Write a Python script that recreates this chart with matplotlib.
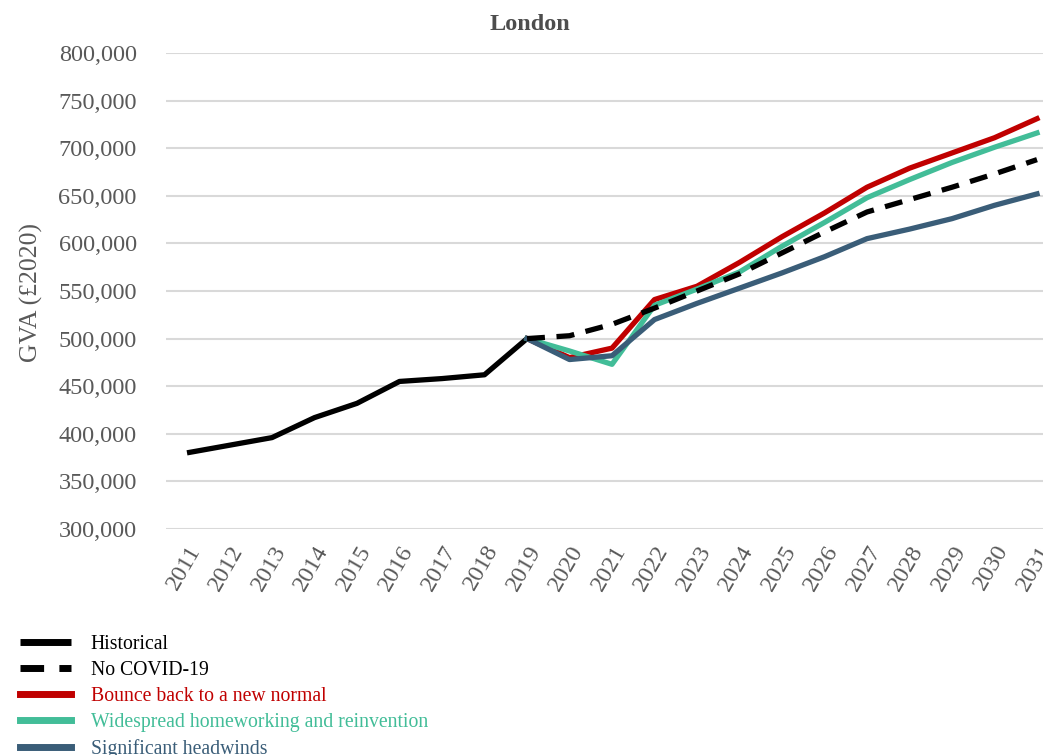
import matplotlib
matplotlib.use("Agg")
import matplotlib.pyplot as plt
from matplotlib.ticker import FuncFormatter

years_hist = [2011, 2012, 2013, 2014, 2015, 2016, 2017, 2018, 2019]
historical = [380000, 388000, 396000, 417000, 432000, 455000, 458000, 462000, 500000]

years_proj = list(range(2019, 2032))
no_covid = [500000, 503000, 515000, 532000, 550000, 568000, 590000, 612000, 633000, 646000, 659000, 673000, 688000]
bounce = [500000, 480000, 490000, 541000, 555000, 580000, 607000, 632000, 659000, 679000, 695000, 711000, 731000]
homework = [500000, 487000, 473000, 535000, 552000, 570000, 597000, 622000, 648000, 667000, 685000, 701000, 716000]
headwinds = [500000, 478000, 482000, 520000, 537000, 553000, 569000, 586000, 605000, 615000, 626000, 640000, 652000]

xticks = list(range(2011, 2032))
yticks = list(range(300000, 800001, 50000))

labels = ["Historical", "No COVID-19", "Bounce back to a new normal",
          "Widespread homeworking and reinvention", "Significant headwinds"]
colors = ["#000000", "#000000", "#C00000", "#42BD98", "#3A5D78"]

plt.rcParams['font.family'] = ['Liberation Serif', 'DejaVu Serif']
grey = "#595959"

fig = plt.figure(figsize=(10.43, 7.55), dpi=100)
ax = fig.add_axes([166/1043, 1-529/755, 1-166/1043, (529-53)/755])

lw = 3.8
ax.plot(years_hist, historical, color=colors[0], lw=lw, label=labels[0], zorder=3, solid_capstyle='butt')
ax.plot(years_proj, no_covid, color=colors[1], lw=lw, ls=(0, (3.4, 2.2)), label=labels[1], zorder=5)
ax.plot(years_proj, bounce, color=colors[2], lw=lw, label=labels[2], zorder=2)
ax.plot(years_proj, homework, color=colors[3], lw=lw, label=labels[3], zorder=3)
ax.plot(years_proj, headwinds, color=colors[4], lw=lw, label=labels[4], zorder=4)

ax.set_xlim(2011 - 21/42.5, 2031 + 6/42.5)
ax.set_ylim(300000, 800000)
ax.set_xticks(xticks)
ax.set_xticklabels([str(y) for y in xticks], rotation=60, ha='right', rotation_mode='anchor')
ax.set_yticks(yticks)
ax.yaxis.set_major_formatter(FuncFormatter(lambda v, p: f"{int(v):,}"))
ax.tick_params(axis='both', length=0, labelsize=17.5, colors=grey)
ax.tick_params(axis='x', pad=9)
ax.tick_params(axis='y', pad=21)
for s in ax.spines.values():
    s.set_visible(False)
ax.grid(axis='y', color='#D9D9D9', lw=1.5)
ax.set_axisbelow(True)

fig.text(31/1043, 1-292/755, "GVA (£2020)", rotation=90, ha='center', va='center',
         fontsize=18.5, color=grey)
fig.text(530/1043, 1-25/755, "London", ha='center', va='center', fontsize=17.5,
         fontweight='bold', color="#4D4D4D")

handles, labs = ax.get_legend_handles_labels()
leg = fig.legend(handles, labs, loc='upper left', bbox_to_anchor=(12/1043, 1-627/755),
                 frameon=False, fontsize=14.2, handlelength=2.6, handletextpad=1.0,
                 labelspacing=0.36, labelcolor=colors, borderaxespad=0)
for h in leg.get_lines():
    h.set_linewidth(5)

fig.savefig("out.png", dpi=100)
